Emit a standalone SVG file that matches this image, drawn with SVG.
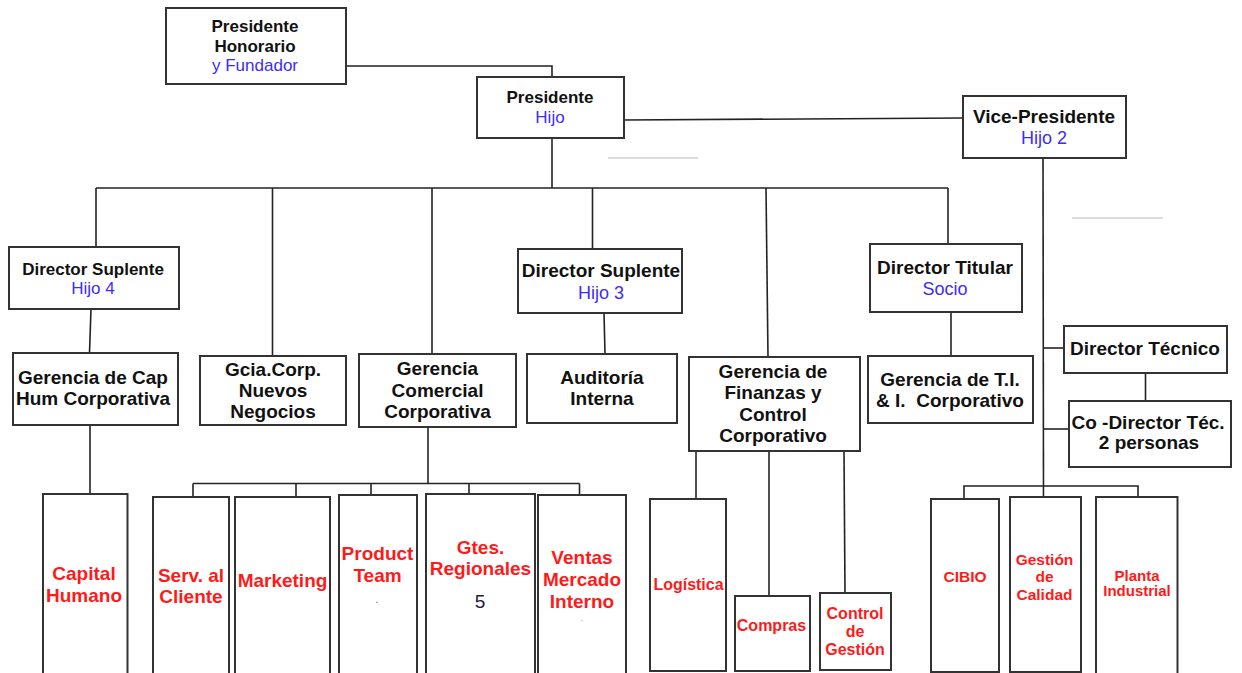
<svg xmlns="http://www.w3.org/2000/svg" width="1242" height="673" viewBox="0 0 1242 673">
  <style>
    .box { fill: #fff; stroke: #333; stroke-width: 2; }
    .ln { fill: none; stroke: #222; stroke-width: 1.6; }
    .faint { fill: none; stroke: #dcdcdc; stroke-width: 2; }
    text { font-family: "Liberation Sans", Arial, sans-serif; text-anchor: middle; }
    .k { font-weight: bold; fill: #111; font-size: 19px; }
    .k17 { font-weight: bold; fill: #111; font-size: 17px; }
    .bl { fill: #3b2cff; font-size: 18px; }
    .bl17 { fill: #3b2cff; font-size: 17px; }
    .r { font-weight: bold; fill: #ff1a1a; font-size: 19px; }
    .rs { font-weight: bold; fill: #ff1a1a; font-size: 16px; }
    .rx { font-weight: bold; fill: #ff1a1a; font-size: 15.5px; }
    .rp { font-weight: bold; fill: #ff1a1a; font-size: 15px; }
  </style>
  <rect width="1242" height="673" fill="#fff"/>

  <!-- connectors -->
  <g id="connectors">
    <polyline class="ln" points="346,66 552,66 552,77"/>
    <line class="ln" x1="624" y1="120" x2="963" y2="118"/>
    <line class="ln" x1="552" y1="138" x2="552" y2="188"/>
    <line class="ln" x1="96" y1="188" x2="948" y2="188"/>
    <line class="ln" x1="96" y1="188" x2="96" y2="247"/>
    <line class="ln" x1="272.5" y1="188" x2="272.5" y2="356"/>
    <line class="ln" x1="432" y1="188" x2="432" y2="354"/>
    <line class="ln" x1="592.5" y1="188" x2="592.5" y2="249"/>
    <line class="ln" x1="766" y1="188" x2="768" y2="357"/>
    <line class="ln" x1="948" y1="188" x2="948" y2="244"/>
    <line class="ln" x1="91" y1="309" x2="89.5" y2="353"/>
    <line class="ln" x1="604" y1="313" x2="605" y2="354"/>
    <line class="ln" x1="951" y1="312" x2="951" y2="356"/>
    <line class="ln" x1="90" y1="425" x2="90" y2="494"/>
    <!-- comercial branch -->
    <line class="ln" x1="428" y1="427" x2="428" y2="483.5"/>
    <line class="ln" x1="193" y1="483.5" x2="579.5" y2="483.5"/>
    <line class="ln" x1="193" y1="483.5" x2="193" y2="497"/>
    <line class="ln" x1="296" y1="483.5" x2="296" y2="497"/>
    <line class="ln" x1="371" y1="483.5" x2="371" y2="495"/>
    <line class="ln" x1="469" y1="483.5" x2="469" y2="494"/>
    <line class="ln" x1="579.5" y1="483.5" x2="579.5" y2="495"/>
    <!-- finanzas branch -->
    <line class="ln" x1="696" y1="451" x2="696" y2="499"/>
    <line class="ln" x1="769" y1="451" x2="769" y2="596"/>
    <line class="ln" x1="844" y1="451" x2="845" y2="593"/>
    <!-- vice branch -->
    <line class="ln" x1="1043" y1="158" x2="1043.5" y2="497"/>
    <line class="ln" x1="1043" y1="348" x2="1064" y2="348"/>
    <line class="ln" x1="1043" y1="429" x2="1069" y2="429"/>
    <line class="ln" x1="1145.5" y1="373" x2="1145.5" y2="401"/>
    <polyline class="ln" points="964,499 964,486 1138,486 1138,499"/>
    <!-- faint rules -->
    <line class="faint" x1="608" y1="158" x2="698" y2="158"/>
    <line class="faint" x1="1072" y1="218" x2="1163" y2="218"/>
  </g>

  <g id="presidente-honorario">
    <rect class="box" x="166" y="8" width="180" height="76"/>
    <text class="k17" x="255" y="31.5">Presidente</text>
    <text class="k17" x="255" y="52">Honorario</text>
    <text class="bl17" x="255" y="71">y Fundador</text>
  </g>

  <g id="presidente">
    <rect class="box" x="477" y="77" width="147" height="61"/>
    <text class="k17" x="550" y="102.5">Presidente</text>
    <text class="bl17" x="550" y="122.5">Hijo</text>
  </g>

  <g id="vice-presidente">
    <rect class="box" x="963" y="96" width="163" height="62"/>
    <text class="k" x="1044" y="122.5">Vice-Presidente</text>
    <text class="bl" x="1044" y="144">Hijo 2</text>
  </g>

  <g id="director-suplente-4">
    <rect class="box" x="9" y="247" width="170" height="62"/>
    <text class="k17" x="93" y="274.5">Director Suplente</text>
    <text class="bl17" x="93" y="294">Hijo 4</text>
  </g>

  <g id="director-suplente-3">
    <rect class="box" x="518" y="249" width="164" height="64"/>
    <text class="k" x="601" y="277">Director Suplente</text>
    <text class="bl" x="601" y="299">Hijo 3</text>
  </g>

  <g id="director-titular">
    <rect class="box" x="870" y="244" width="152" height="68"/>
    <text class="k" x="945" y="274">Director Titular</text>
    <text class="bl" x="945" y="295">Socio</text>
  </g>

  <g id="gerencia-cap-hum">
    <rect class="box" x="13" y="353" width="165" height="72"/>
    <text class="k" x="93" y="384">Gerencia de Cap</text>
    <text class="k" x="93" y="405">Hum Corporativa</text>
  </g>

  <g id="nuevos-negocios">
    <rect class="box" x="200" y="356" width="146" height="69"/>
    <text class="k" x="273" y="376">Gcia.Corp.</text>
    <text class="k" x="273" y="397">Nuevos</text>
    <text class="k" x="273" y="418">Negocios</text>
  </g>

  <g id="gerencia-comercial">
    <rect class="box" x="359" y="354" width="157" height="73"/>
    <text class="k" x="437.5" y="375">Gerencia</text>
    <text class="k" x="437.5" y="396.5">Comercial</text>
    <text class="k" x="437.5" y="417.5">Corporativa</text>
  </g>

  <g id="auditoria">
    <rect class="box" x="527" y="354" width="150" height="69"/>
    <text class="k" x="602" y="383.5">Auditoría</text>
    <text class="k" x="602" y="405">Interna</text>
  </g>

  <g id="gerencia-finanzas">
    <rect class="box" x="689" y="357" width="171" height="94"/>
    <text class="k" x="773" y="377.5">Gerencia de</text>
    <text class="k" x="773" y="399">Finanzas y</text>
    <text class="k" x="773" y="420.5">Control</text>
    <text class="k" x="773" y="441.5">Corporativo</text>
  </g>

  <g id="gerencia-ti">
    <rect class="box" x="868" y="356" width="165" height="67"/>
    <text class="k" x="950" y="386">Gerencia de T.I.</text>
    <text class="k" x="950" y="407" xml:space="preserve">&amp; I.  Corporativo</text>
  </g>

  <g id="director-tecnico">
    <rect class="box" x="1064" y="326" width="163" height="47"/>
    <text class="k" x="1145" y="355">Director Técnico</text>
  </g>

  <g id="co-director">
    <rect class="box" x="1069" y="401" width="162" height="66"/>
    <text class="k" x="1148" y="428.5">Co -Director Téc.</text>
    <text class="k" x="1149" y="448.5">2 personas</text>
  </g>

  <g id="capital-humano">
    <rect class="box" x="43" y="494" width="84.5" height="190"/>
    <text class="r" x="84" y="580">Capital</text>
    <text class="r" x="84" y="602">Humano</text>
  </g>

  <g id="serv-cliente">
    <rect class="box" x="153" y="497" width="76" height="190"/>
    <text class="r" x="191" y="582">Serv. al</text>
    <text class="r" x="191" y="603">Cliente</text>
  </g>

  <g id="marketing">
    <rect class="box" x="235" y="497" width="95" height="190"/>
    <text class="r" x="282.5" y="587">Marketing</text>
  </g>

  <g id="product-team">
    <rect class="box" x="339" y="495" width="78" height="190"/>
    <text class="r" x="377.5" y="560">Product</text>
    <text class="r" x="377.5" y="582">Team</text>
    <text x="377" y="603" font-size="12" fill="#777">.</text>
  </g>

  <g id="gtes-regionales">
    <rect class="box" x="426" y="494" width="109" height="190"/>
    <text class="r" x="480.5" y="553.5">Gtes.</text>
    <text class="r" x="480.5" y="574.5">Regionales</text>
    <text x="480" y="607.5" font-size="19" fill="#1c1c3a">5</text>
  </g>

  <g id="ventas-mercado">
    <rect class="box" x="538" y="495" width="88" height="190"/>
    <text class="r" x="582" y="564">Ventas</text>
    <text class="r" x="582" y="586">Mercado</text>
    <text class="r" x="582" y="607.5">Interno</text>
    <text x="582" y="621" font-size="10" fill="#e88">.</text>
  </g>

  <g id="logistica">
    <rect class="box" x="650" y="499" width="76" height="172"/>
    <text class="rs" x="688.5" y="590">Logística</text>
  </g>

  <g id="compras">
    <rect class="box" x="735" y="596" width="75" height="75"/>
    <text class="rs" x="771.5" y="630.5">Compras</text>
  </g>

  <g id="control-gestion">
    <rect class="box" x="820" y="593" width="71" height="77"/>
    <text class="rs" x="855" y="619">Control</text>
    <text class="rs" x="855" y="637">de</text>
    <text class="rs" x="855" y="654.5">Gestión</text>
  </g>

  <g id="cibio">
    <rect class="box" x="931" y="499" width="68" height="173"/>
    <text class="rx" x="965" y="582">CIBIO</text>
  </g>

  <g id="gestion-calidad">
    <rect class="box" x="1010" y="497" width="71" height="175"/>
    <text class="rx" x="1044.5" y="564.5">Gestión</text>
    <text class="rx" x="1044.5" y="582">de</text>
    <text class="rx" x="1044.5" y="600">Calidad</text>
  </g>

  <g id="planta-industrial">
    <rect class="box" x="1096" y="497" width="81.5" height="185"/>
    <text class="rp" x="1137" y="581">Planta</text>
    <text class="rp" x="1137" y="596">Industrial</text>
  </g>
</svg>
